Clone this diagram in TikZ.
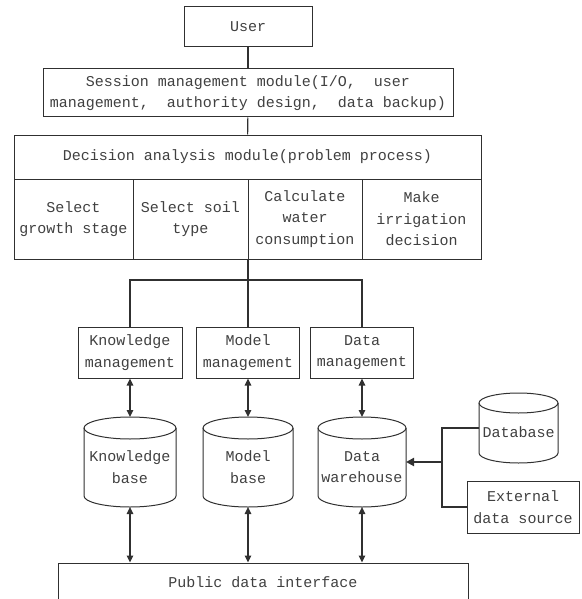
\documentclass[tikz,border=0pt]{standalone}
\usepackage{fontspec}
\setmainfont{Liberation Mono}
\usetikzlibrary{arrows.meta}
\definecolor{ink}{HTML}{303030}
\definecolor{txt}{HTML}{404040}
\tikzset{
  edge/.style={draw=ink, line width=1pt},
  label text/.style={align=center, text=txt, inner sep=1pt, font=\fontsize{15}{21.5}\selectfont},
  box/.style={edge, rectangle, label text},
  drum/.style={rectangle, inner sep=0pt, outer sep=0pt},
  link/.style={draw=ink, line width=1.1pt},
  both/.style={draw=ink, line width=1.4pt, {Triangle[length=7pt,width=6.5pt]}-{Triangle[length=7pt,width=6.5pt]}},
  feed/.style={draw=ink, line width=2.2pt, -{Triangle[length=8pt,width=8pt]}},
}
% outline of a vertical cylinder around a named node: #1 node, #2 x radius, #3 y radius
\newcommand\drumoutline[3]{%
  \draw[edge] ([yshift=-#3pt]#1.north west) -- ([yshift=#3pt]#1.south west)
     arc[start angle=180, end angle=360, x radius=#2pt, y radius=#3pt]
     -- ([yshift=-#3pt]#1.north east);
  \draw[edge] ([yshift=-#3pt]#1.north) ellipse[x radius=#2pt, y radius=#3pt];
}
\begin{document}
\begin{tikzpicture}[x=1pt, y=-1pt]
\useasboundingbox (0,0) rectangle (581,599);

% top layers
\node[box, minimum width=128pt, minimum height=40pt] (user) at (248,27) {User};
\node[box, minimum width=410pt, minimum height=48pt] (session) at (248,93)
  {Session management module(I/O,\ \ user\\management,\ \ authority design,\ \ data backup)};
\node[box, minimum width=467pt, minimum height=44pt] (decision) at (247.5,157)
  {Decision analysis module(problem process)};

% decision steps
\node[box, minimum width=119pt, minimum height=80pt] (stage) at (73.5,219) {Select\\growth stage};
\node[box, minimum width=115pt, minimum height=80pt] (soil) at (190.5,219) {Select soil\\type};
\node[box, minimum width=114pt, minimum height=80pt] (water) at (305,219) {Calculate\\water\\consumption};
\node[box, minimum width=119pt, minimum height=80pt] (irrig) at (421.5,219) {Make\\irrigation\\decision};

% management modules
\node[box, minimum width=104pt, minimum height=51pt] (km) at (130,352.5) {Knowledge\\management};
\node[box, minimum width=103pt, minimum height=51pt] (mm) at (248,352.5) {Model\\management};
\node[box, minimum width=103pt, minimum height=51pt] (dm) at (362,352.5) {Data\\management};

% stores: the node gives the frame, the label sits a little below the middle
\node[drum, minimum width=92pt, minimum height=90pt,
  label={[label text, yshift=-5pt]center:{Knowledge\\base}}] (kb) at (130,462) {};
\node[drum, minimum width=90pt, minimum height=90pt,
  label={[label text, yshift=-5pt]center:{Model\\base}}] (mb) at (248,462) {};
\node[drum, minimum width=88pt, minimum height=90pt,
  label={[label text, yshift=-5pt]center:{Data\\warehouse}}] (dw) at (362,462) {};
\node[drum, minimum width=79pt, minimum height=70pt,
  label={[label text, yshift=-4pt]center:{Database}}] (db) at (518.5,428) {};
\drumoutline{kb}{46}{11}
\drumoutline{mb}{45}{11}
\drumoutline{dw}{44}{11}
\drumoutline{db}{39.5}{10}

\node[box, minimum width=112pt, minimum height=52pt] (ext) at (523,507) {External\\data source};
\node[box, minimum width=410pt, minimum height=38pt] (pub) at (263,582) {Public data interface};

% connectors
\draw[link] (user) -- (session);
\draw[link] (session) -- (decision);
\coordinate (bus) at (248,280);
\draw[link] (bus |- water.south) -- (bus);
\draw[link] (km.north) |- (bus) -| (dm.north);
\draw[link] (bus) -- (mm.north);

\draw[both] (km.south) -- (kb.north);
\draw[both] (mm.south) -- (mb.north);
\draw[both] (dm.south) -- (dw.north);
\draw[both] (kb.south) -- (kb.south |- pub.north);
\draw[both] (mb.south) -- (mb.south |- pub.north);
\draw[both] (dw.south) -- (dw.south |- pub.north);

\coordinate (trunk) at (442,462);
\draw[link] (db.west) -| (trunk |- ext.west) -- (ext.west);
\draw[feed] (dw.east -| trunk) -- (dw.east);
\end{tikzpicture}
\end{document}
